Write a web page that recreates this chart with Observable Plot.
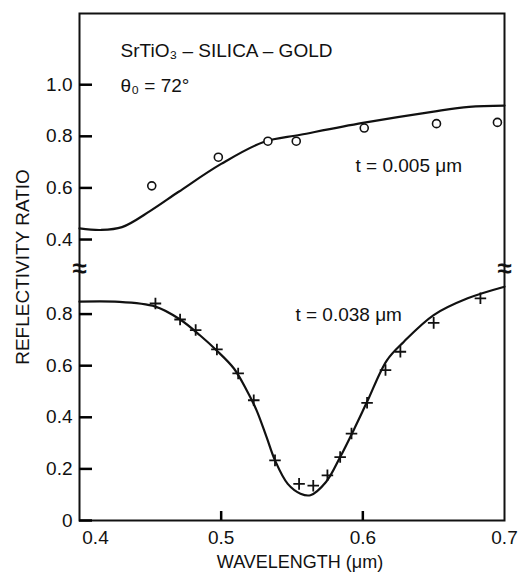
<!DOCTYPE html>
<html><head><meta charset="utf-8">
<script src="https://cdn.jsdelivr.net/npm/d3@7"></script>
<script src="https://cdn.jsdelivr.net/npm/@observablehq/plot@0.6"></script>
<style>
body{margin:0;background:#fff}
#chart{width:532px;height:574px}
</style>
</head><body><div id="chart"></div>
<script>
// Upper panel (t = 0.005 µm): theory curve and measured circles
const thinCurveWl = [0.40,0.415,0.43,0.45,0.47,0.50,0.53,0.556,0.60,0.65,0.675,0.70];
const thinCurveR  = [0.443,0.437,0.448,0.511,0.585,0.693,0.778,0.806,0.852,0.896,0.914,0.919];
const thinPtsWl = [0.451,0.498,0.533,0.553,0.601,0.652,0.695];
const thinPtsR  = [0.608,0.719,0.781,0.781,0.832,0.849,0.854];
// Lower panel (t = 0.038 µm): theory curve and measured plus markers
const thickCurveWl = [0.40,0.425,0.4536,0.471,0.485,0.497,0.509,0.518,0.525,0.532,0.538,0.547,0.556,0.563,0.574,0.584,0.594,0.603,0.617,0.629,0.65,0.674,0.70];
const thickCurveR  = [0.848,0.848,0.829,0.779,0.718,0.658,0.589,0.505,0.427,0.324,0.233,0.142,0.104,0.098,0.149,0.246,0.356,0.46,0.621,0.693,0.796,0.861,0.906];
const thickPtsWl = [0.4536,0.471,0.482,0.497,0.512,0.523,0.538,0.555,0.565,0.575,0.584,0.592,0.603,0.616,0.6265,0.65,0.683];
const thickPtsR  = [0.841,0.779,0.738,0.663,0.57,0.466,0.233,0.142,0.135,0.175,0.246,0.337,0.456,0.583,0.654,0.766,0.861];
// Ticks
const xTicks = [0.4,0.5,0.6,0.7];
const xTickLabels = ["0.4","0.5","0.6","0.7"];
const lowerTicks = [0,0.2,0.4,0.6,0.8];
const lowerTickLabels = ["0","0.2","0.4","0.6","0.8"];
const upperTicks = [0.4,0.6,0.8,1.0];
const upperTickLabels = ["0.4","0.6","0.8","1.0"];
// Broken axis: upper panel values are shifted by OFF on the shared y scale
const OFF = 0.689;
const Y_TOP = 1.965;
const BREAK = 0.977;
// Annotations: [text, wavelength, value, panel]
const notes = [
  ["SrTiO\u2083 \u2013 SILICA \u2013 GOLD", 0.429, 1.106, "upper"],
  ["\u03B8\u2080 = 72\u00B0", 0.429, 0.970, "upper"],
  ["t = 0.005 \u03BCm", 0.5948, 0.660, "upper"],
  ["t = 0.038 \u03BCm", 0.5524, 0.775, "lower"]
];

const W = 532, H = 574, ML = 79, MR = 28, MT = 13, MB = 54;
const X_DOM = [0.4, 0.7];
const up = v => v + OFF;
const thinCurve = thinCurveWl.map((w,i)=>({w, y: up(thinCurveR[i])}));
const thinPts = thinPtsWl.map((w,i)=>({w, y: up(thinPtsR[i])}));
const thickCurve = thickCurveWl.map((w,i)=>({w, y: thickCurveR[i]}));
const thickPts = thickPtsWl.map((w,i)=>({w, y: thickPtsR[i]}));
const noteData = notes.map(([t,w,v,p])=>({t, w, y: p==="upper" ? up(v) : v}));
const breaks = [{w:X_DOM[0], y:BREAK},{w:X_DOM[1], y:BREAK}];
const yTickPos = lowerTicks.concat(upperTicks.map(up));

const FONT = "Liberation Sans, Arial, sans-serif";
const labelOf = (ticks, labels, f = d => d) => d => labels[ticks.findIndex(t => Math.abs(f(t) - d) < 1e-9)];

const chart = Plot.plot({
  width: W, height: H,
  marginLeft: ML, marginRight: MR, marginTop: MT, marginBottom: MB,
  style: {fontFamily: FONT, fontSize: "19px", color: "#111", background: "#fff"},
  x: {domain: X_DOM},
  y: {domain: [0, Y_TOP]},
  marks: [
    Plot.frame({stroke: "#111", strokeWidth: 2}),
    // inward tick marks, drawn as short ticks starting at the frame
    Plot.tickY(yTickPos.map(y => ({y})), {y: "y", stroke: "#000", strokeWidth: 2.5, insetRight: W - ML - MR - 13}),
    Plot.tickX(xTicks.slice(1, 3).map(x => ({x})), {x: "x", stroke: "#000", strokeWidth: 2.5, insetTop: H - MT - MB - 9}),
    // tick labels
    Plot.axisX({ticks: xTicks.slice(0, 1), tickSize: 0, tickPadding: 10, dx: 16,
      tickFormat: labelOf(xTicks, xTickLabels), label: null, fontSize: 19}),
    Plot.axisX({ticks: xTicks.slice(1), tickSize: 0, tickPadding: 10,
      tickFormat: labelOf(xTicks, xTickLabels), label: null, fontSize: 19}),
    Plot.axisY({ticks: lowerTicks, tickSize: 0, tickPadding: 7,
      tickFormat: labelOf(lowerTicks, lowerTickLabels), label: null, fontSize: 19}),
    Plot.axisY({ticks: upperTicks.map(up), tickSize: 0, tickPadding: 7,
      tickFormat: labelOf(upperTicks, upperTickLabels, up), label: null, fontSize: 19}),
    Plot.line(thinCurve, {x: "w", y: "y", curve: "catmull-rom", stroke: "#111", strokeWidth: 2.2}),
    Plot.line(thickCurve, {x: "w", y: "y", curve: "catmull-rom", stroke: "#111", strokeWidth: 2.2}),
    Plot.dot(thinPts, {x: "w", y: "y", r: 4, stroke: "#111", strokeWidth: 1.6, fill: "#fff"}),
    Plot.dot(thickPts, {x: "w", y: "y", r: 3.8, symbol: "plus", stroke: "#111", strokeWidth: 1.8}),
    Plot.text(noteData, {x: "w", y: "y", text: "t", textAnchor: "start", lineAnchor: "bottom", fontSize: 19, fill: "#111"}),
    Plot.text(breaks, {x: "w", y: "y", text: () => "\u2248", fontSize: 26, fill: "#111", fontWeight: "bold"}),
    Plot.text(["REFLECTIVITY RATIO"], {frameAnchor: "left", textAnchor: "middle", rotate: -90, dx: -57, fontSize: 19, fill: "#111"}),
    Plot.text(["WAVELENGTH (\u03BCm)"], {frameAnchor: "bottom", textAnchor: "middle", lineAnchor: "bottom", dy: 47, dx: 8, fontSize: 18, fill: "#111"})
  ]
});
document.getElementById("chart").appendChild(chart);
</script>
</body></html>
